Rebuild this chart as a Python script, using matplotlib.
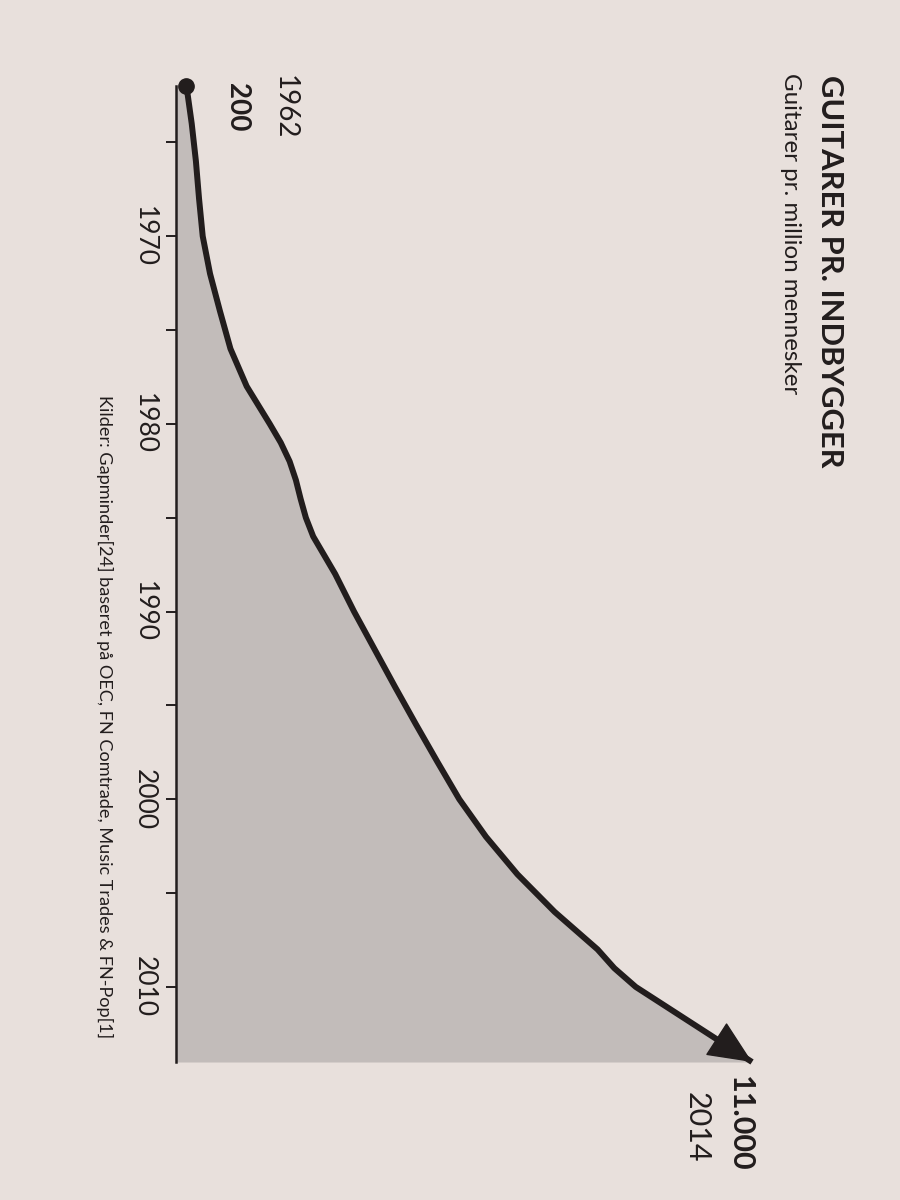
import matplotlib
matplotlib.use("Agg")
import matplotlib.pyplot as plt

# ---- data -------------------------------------------------------------
years = [1962, 1964, 1966, 1968, 1970, 1972, 1974, 1976, 1978, 1980,
         1981, 1982, 1983, 1984, 1985, 1986, 1987, 1988, 1990, 1992,
         1994, 1996, 1998, 2000, 2002, 2004, 2006, 2008, 2009, 2010,
         2012, 2014]
guitars = [200, 300, 380, 440, 510, 650, 840, 1040, 1350, 1790,
           2000, 2170, 2290, 2380, 2480, 2620, 2830, 3040, 3400, 3790,
           4180, 4580, 4990, 5410, 5920, 6520, 7230, 8050, 8370, 8780,
           9890, 11000]
major_years = [1970, 1980, 1990, 2000, 2010]
minor_years = [1965, 1975, 1985, 1995, 2005]
title = "GUITARER PR. INDBYGGER"
subtitle = "Guitarer pr. million mennesker"
source = "Kilder: Gapminder[24] baseret på OEC, FN Comtrade, Music Trades & FN-Pop[1]"
start_year_label, start_value_label = "1962", "200"
end_year_label, end_value_label = "2014", "11.000"

# ---- style ------------------------------------------------------------
plt.rcParams['font.family'] = ['Lato', 'DejaVu Sans']
paper = '#e8e0dc'
ink = '#221d1d'
shade = '#c2bcba'

fig = plt.figure(figsize=(9, 12), dpi=100, facecolor=paper)
ax = fig.add_axes([176 / 900, 0.115, 1 - 176 / 900, 0.81333])
ax.set_facecolor('none')

ax.fill_betweenx(years, 0, guitars, color=shade, lw=0, zorder=1)
ax.plot(guitars, years, color=ink, lw=4.3, solid_joinstyle='round',
        solid_capstyle='butt', zorder=3, clip_on=False)
ax.plot(guitars[:1], years[:1], 'o', color=ink, ms=11, zorder=4, clip_on=False)
ax.annotate('', xy=(guitars[-1], years[-1]), xytext=(guitars[-2], years[-2]),
            arrowprops=dict(arrowstyle='-|>,head_length=2.9,head_width=1.3',
                            mutation_scale=10, color=ink, lw=1.0,
                            shrinkA=0, shrinkB=0),
            zorder=5, annotation_clip=False)

ax.set_xlim(0, 13826)
ax.set_ylim(2014, 1962)

for s in ['top', 'right', 'bottom']:
    ax.spines[s].set_visible(False)
ax.spines['left'].set_color(ink)
ax.spines['left'].set_linewidth(1.8)
ax.spines['left'].set_zorder(4)
ax.set_xticks([])
ax.set_yticks(major_years)
ax.set_yticks(minor_years, minor=True)
ax.set_yticklabels([str(y) for y in major_years])
ax.tick_params(axis='y', which='both', direction='out', length=7, width=1.4,
               color=ink, pad=6.5)
ax.tick_params(axis='y', which='major', labelsize=19, labelcolor=ink)
for lab in ax.get_yticklabels():
    lab.set_rotation(-90)
    lab.set_va('center')
    lab.set_ha('right')

# end labels
ax.annotate(start_year_label, xy=(guitars[0], years[0]), xytext=(71, -15),
            textcoords='offset points', rotation=-90, ha='center', va='center',
            fontsize=20, color=ink, annotation_clip=False)
ax.annotate(start_value_label, xy=(guitars[0], years[0]), xytext=(36.4, -15),
            textcoords='offset points', rotation=-90, ha='center', va='center',
            fontsize=20, fontweight='bold', color=ink, annotation_clip=False)
ax.annotate(end_value_label, xy=(guitars[-1], years[-1]), xytext=(-8.6, -44.6),
            textcoords='offset points', rotation=-90, ha='center', va='center',
            fontsize=22, fontweight='bold', color=ink, annotation_clip=False)
ax.annotate(end_year_label, xy=(guitars[-1], years[-1]), xytext=(-39.6, -46.8),
            textcoords='offset points', rotation=-90, ha='center', va='center',
            fontsize=22, color=ink, annotation_clip=False)

# title, subtitle, source (page rotated 90 degrees clockwise)
fig.text(830 / 900, 1 - 75 / 1200, title, rotation=-90, ha='center', va='top',
         fontsize=22.2, fontweight='bold', color=ink)
fig.text(790 / 900, 1 - 73 / 1200, subtitle, rotation=-90, ha='center', va='top',
         fontsize=17.4, color=ink)
fig.text(105 / 900, 1 - 395 / 1200, source, rotation=-90, ha='center', va='top',
         fontsize=13.1, color=ink)

fig.savefig('out.png', dpi=100, facecolor=paper)
